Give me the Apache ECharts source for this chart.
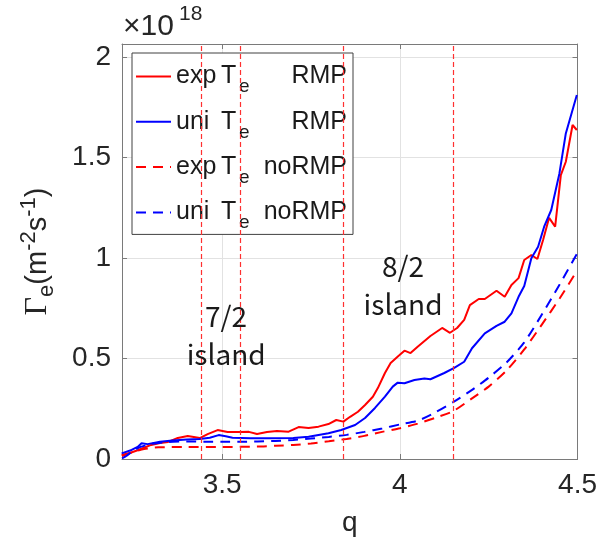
<!DOCTYPE html>
<html>
<head>
<meta charset="utf-8">
<script src="https://cdn.jsdelivr.net/npm/echarts@6/dist/echarts.min.js"></script>
<style>
  html, body { margin: 0; padding: 0; background: #ffffff; }
  #chart { width: 600px; height: 546px; }
</style>
</head>
<body>
<div id="chart"></div>
<script>
// Electron flux Γe (units of 1e18 m^-2 s^-1) versus safety factor q

// exp Te, RMP
const qExpRmp = [3.217, 3.24, 3.264, 3.285, 3.30, 3.325, 3.348, 3.375, 3.403, 3.437, 3.459, 3.487, 3.515, 3.551, 3.575, 3.598, 3.626, 3.654, 3.687, 3.715, 3.743, 3.771, 3.799, 3.821, 3.841, 3.86, 3.882, 3.902, 3.924, 3.938, 3.958, 3.974, 3.999, 4.013, 4.03, 4.05, 4.086, 4.119, 4.141, 4.161, 4.181, 4.197, 4.222, 4.239, 4.272, 4.295, 4.314, 4.334, 4.35, 4.37, 4.387, 4.403, 4.42, 4.437, 4.453, 4.467, 4.486, 4.498];
const fluxExpRmp = [0.02, 0.03, 0.045, 0.06, 0.07, 0.08, 0.085, 0.105, 0.114, 0.104, 0.124, 0.144, 0.134, 0.134, 0.135, 0.124, 0.134, 0.139, 0.136, 0.159, 0.154, 0.161, 0.174, 0.194, 0.186, 0.21, 0.235, 0.269, 0.31, 0.353, 0.428, 0.478, 0.517, 0.539, 0.527, 0.559, 0.612, 0.652, 0.628, 0.652, 0.692, 0.766, 0.796, 0.796, 0.837, 0.807, 0.866, 0.9, 0.99, 1.015, 0.995, 1.09, 1.2, 1.156, 1.413, 1.479, 1.662, 1.637];

// uni Te, RMP
const qUniRmp = [3.217, 3.245, 3.262, 3.273, 3.29, 3.325, 3.36, 3.40, 3.437, 3.465, 3.49, 3.51, 3.529, 3.58, 3.633, 3.7, 3.743, 3.799, 3.835, 3.874, 3.902, 3.93, 3.958, 3.98, 3.994, 4.013, 4.041, 4.069, 4.086, 4.125, 4.153, 4.181, 4.203, 4.239, 4.272, 4.295, 4.314, 4.334, 4.35, 4.37, 4.389, 4.406, 4.426, 4.449, 4.467, 4.498];
const fluxUniRmp = [0.028, 0.045, 0.06, 0.078, 0.074, 0.086, 0.092, 0.097, 0.0995, 0.106, 0.119, 0.113, 0.106, 0.103, 0.103, 0.105, 0.111, 0.128, 0.144, 0.169, 0.204, 0.254, 0.31, 0.36, 0.38, 0.377, 0.393, 0.401, 0.397, 0.428, 0.453, 0.484, 0.551, 0.625, 0.662, 0.683, 0.725, 0.807, 0.861, 0.999, 1.056, 1.156, 1.239, 1.421, 1.62, 1.811];

// exp Te, no RMP
const qExpNoRmp = [3.218, 3.25, 3.28, 3.32, 3.40, 3.50, 3.60, 3.65, 3.70, 3.75, 3.80, 3.85, 3.90, 3.95, 4.00, 4.05, 4.10, 4.15, 4.20, 4.25, 4.30, 4.35, 4.40, 4.45, 4.498];
const fluxExpNoRmp = [0.015, 0.035, 0.05, 0.058, 0.06, 0.06, 0.062, 0.066, 0.07, 0.077, 0.088, 0.1, 0.115, 0.135, 0.153, 0.176, 0.205, 0.238, 0.298, 0.36, 0.44, 0.545, 0.67, 0.8, 0.935];

// uni Te, no RMP
const qUniNoRmp = [3.218, 3.23, 3.245, 3.27, 3.30, 3.35, 3.40, 3.45, 3.50, 3.55, 3.60, 3.65, 3.70, 3.75, 3.80, 3.85, 3.90, 3.95, 4.00, 4.05, 4.10, 4.15, 4.20, 4.25, 4.30, 4.35, 4.40, 4.45, 4.498];
const fluxUniNoRmp = [0.003, 0.015, 0.035, 0.06, 0.075, 0.085, 0.087, 0.086, 0.086, 0.086, 0.087, 0.09, 0.095, 0.102, 0.11, 0.12, 0.135, 0.152, 0.172, 0.19, 0.232, 0.283, 0.34, 0.405, 0.48, 0.58, 0.72, 0.87, 1.02];

// island boundaries (vertical dashed lines)
const islandEdges = [3.437, 3.548, 3.839, 4.15];

// island annotations
const islandLabels = ['7/2\nisland', '8/2\nisland'];
const islandLabelPos = [[3.511, 0.617], [4.009, 0.866]];

// axis ticks
const xTicks = [3.5, 4, 4.5];
const yTicks = [0, 0.5, 1, 1.5, 2];

const seriesNames = ['exp Te RMP', 'uni Te RMP', 'exp Te noRMP', 'uni Te noRMP'];
const legendRich = {
  'exp Te RMP':   '{a|exp}{t|T}{s|e}{r|RMP}',
  'uni Te RMP':   '{a|uni}{t|T}{s|e}{r|RMP}',
  'exp Te noRMP': '{a|exp}{t|T}{s|e}{r|noRMP}',
  'uni Te noRMP': '{a|uni}{t|T}{s|e}{r|noRMP}'
};

const pairs = (xs, ys) => xs.map((x, i) => [x, ys[i]]);

const FONT = 'Liberation Sans';
const TXT = '#262626';
const AXIS = '#7a7a7a';

const chart = echarts.init(document.getElementById('chart'), null, { renderer: 'canvas' });

const baseAxis = {
  type: 'value',
  axisLine: { show: true, onZero: false, lineStyle: { color: AXIS, width: 1 } },
  axisTick: { show: true, inside: true, length: 5, lineStyle: { color: AXIS, width: 1 } }
};

const option = {
  animation: false,
  backgroundColor: '#ffffff',
  grid: { left: 122, right: 19, top: 44, bottom: 87, containLabel: false },
  xAxis: [
    Object.assign({}, baseAxis, {
      min: 3.218, max: 4.5, position: 'bottom',
      axisTick: Object.assign({}, baseAxis.axisTick, { customValues: xTicks }),
      axisLabel: { customValues: xTicks, fontSize: 28, fontFamily: FONT, color: TXT, margin: 12 },
      splitLine: { show: true, lineStyle: { color: '#e2e2e2', width: 1 } },
      name: 'q', nameLocation: 'middle', nameGap: 50,
      nameTextStyle: { fontSize: 28, fontFamily: FONT, color: TXT }
    }),
    Object.assign({}, baseAxis, {
      min: 3.218, max: 4.5, position: 'top',
      axisTick: Object.assign({}, baseAxis.axisTick, { customValues: xTicks }),
      axisLabel: { show: false }, splitLine: { show: false }
    })
  ],
  yAxis: [
    Object.assign({}, baseAxis, {
      min: 0, max: 2.065, position: 'left',
      axisTick: Object.assign({}, baseAxis.axisTick, { customValues: yTicks }),
      axisLabel: { customValues: yTicks, fontSize: 28, fontFamily: FONT, color: TXT, margin: 11 },
      splitLine: { show: true, lineStyle: { color: '#e2e2e2', width: 1 } },
      name: '{g|Γ}{b|e}{n|(m}{p|-2}{n|s}{p|-1}{n|)}',
      nameLocation: 'middle', nameRotate: 90, nameGap: 64,
      nameTextStyle: {
        color: TXT,
        rich: {
          g: { fontFamily: 'Liberation Serif', fontSize: 32, lineHeight: 40, color: TXT },
          n: { fontFamily: FONT, fontSize: 29, lineHeight: 40, color: TXT },
          b: { fontFamily: FONT, fontSize: 22, lineHeight: 18, verticalAlign: 'bottom', color: TXT },
          p: { fontFamily: FONT, fontSize: 22, lineHeight: 18, verticalAlign: 'top', color: TXT }
        }
      }
    }),
    Object.assign({}, baseAxis, {
      min: 0, max: 2.065, position: 'right',
      axisTick: Object.assign({}, baseAxis.axisTick, { customValues: yTicks }),
      axisLabel: { show: false }, splitLine: { show: false }
    })
  ],
  legend: {
    orient: 'vertical',
    left: 132, top: 53,
    padding: [11, 6, 2, 3],
    itemGap: 12.8,
    itemWidth: 35,
    itemHeight: 14,
    selectedMode: false,
    backgroundColor: '#ffffff',
    borderColor: '#404040',
    borderWidth: 1,
    borderRadius: 0,
    itemStyle: { opacity: 0 },
    data: seriesNames,
    formatter: name => legendRich[name],
    textStyle: {
      color: '#1a1a1a',
      rich: {
        a: { fontFamily: FONT, fontSize: 25, lineHeight: 40, width: 45, color: '#1a1a1a' },
        t: { fontFamily: FONT, fontSize: 25, lineHeight: 40, width: 18, color: '#1a1a1a' },
        s: { fontFamily: FONT, fontSize: 19, lineHeight: 16, verticalAlign: 'bottom', width: 12, color: '#1a1a1a' },
        r: { fontFamily: FONT, fontSize: 25, lineHeight: 40, width: 96, align: 'right', color: '#1a1a1a' }
      }
    }
  },
  graphic: [
    { type: 'text', left: 123, top: 12, style: { text: '×10', fontSize: 30, fontFamily: FONT, fill: TXT } },
    { type: 'text', left: 179, top: 4, style: { text: '18', fontSize: 21, fontFamily: FONT, fill: TXT } }
  ],
  series: [
    {
      name: seriesNames[0], type: 'line', symbol: 'none',
      data: pairs(qExpRmp, fluxExpRmp),
      lineStyle: { color: '#ff0000', width: 2 }, itemStyle: { color: '#ff0000' },
      z: 3,
      markLine: {
        silent: true, symbol: ['none', 'none'], label: { show: false },
        lineStyle: { color: '#ff3030', width: 1.2, type: [5, 3] },
        emphasis: { disabled: true },
        data: islandEdges.map(q => ({ xAxis: q }))
      },
      markPoint: {
        silent: true, symbol: 'rect', symbolSize: 1,
        itemStyle: { color: 'rgba(0,0,0,0)' },
        label: {
          show: true, position: 'inside', fontSize: 28, lineHeight: 38,
          fontFamily: 'Noto Sans CJK SC', color: '#1a1a1a',
          formatter: p => p.name
        },
        data: islandLabels.map((t, i) => ({ name: t, coord: islandLabelPos[i] }))
      }
    },
    {
      name: seriesNames[1], type: 'line', symbol: 'none',
      data: pairs(qUniRmp, fluxUniRmp),
      lineStyle: { color: '#0000ff', width: 2 }, itemStyle: { color: '#0000ff' }, z: 3
    },
    {
      name: seriesNames[2], type: 'line', symbol: 'none', smooth: 0.2,
      data: pairs(qExpNoRmp, fluxExpNoRmp),
      lineStyle: { color: '#ff0000', width: 2, type: [10, 7] }, itemStyle: { color: '#ff0000' }, z: 3
    },
    {
      name: seriesNames[3], type: 'line', symbol: 'none', smooth: 0.2,
      data: pairs(qUniNoRmp, fluxUniNoRmp),
      lineStyle: { color: '#0000ff', width: 2, type: [10, 7] }, itemStyle: { color: '#0000ff' }, z: 3
    }
  ]
};

chart.setOption(option);
</script>
</body>
</html>
